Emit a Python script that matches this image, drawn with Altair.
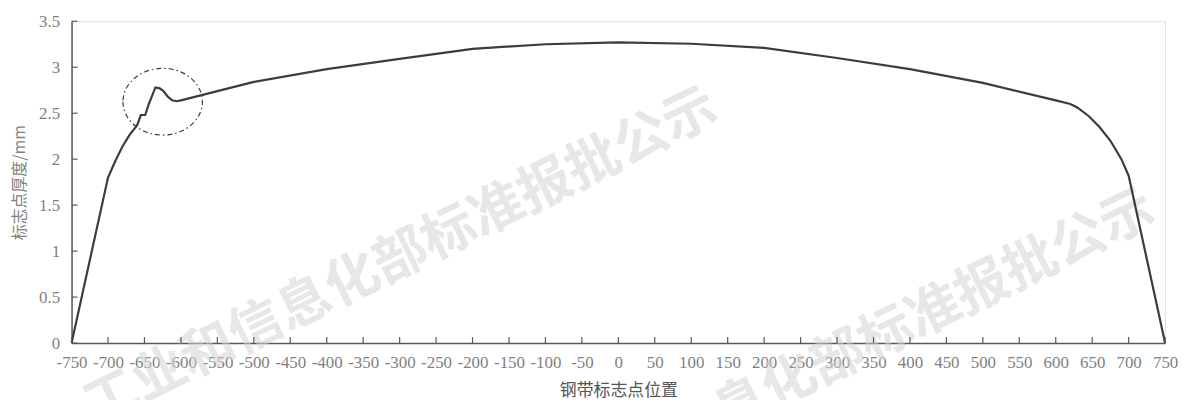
import altair as alt
import pandas as pd

# strip position (mm from centre) and marker-point thickness (mm)
pos = [-750, -700, -690, -680, -670, -664, -660, -655, -649, -644,
       -640, -635, -629, -624, -618, -612, -606, -600,
       -500, -400, -300, -200, -100, 0, 100, 200, 300, 400, 500, 600,
       620, 630, 645, 660, 675, 690, 700, 750]
thk = [0, 1.80, 1.98, 2.14, 2.27, 2.33, 2.37, 2.48, 2.48, 2.60,
       2.68, 2.78, 2.77, 2.74, 2.68, 2.64, 2.63, 2.64,
       2.84, 2.98, 3.09, 3.20, 3.25, 3.27, 3.255, 3.21, 3.10, 2.98, 2.83, 2.64,
       2.60, 2.56, 2.47, 2.35, 2.20, 2.00, 1.82, 0]

x_ticks = list(range(-750, 751, 50))
y_ticks = [0, 0.5, 1, 1.5, 2, 2.5, 3, 3.5]

# highlighted region (dash-dot ellipse) centre
ell_pos = [-625]
ell_thk = [2.625]

x_title = "钢带标志点位置"
y_title = "标志点厚度/mm"
watermark = "工业和信息化部标准报批公示"

W, H = 1101, 324
AX = "#595959"
LAB = "#7f7f7f"

xscale = alt.Scale(domain=[-750, 750], nice=False, zero=False)
yscale = alt.Scale(domain=[0, 3.5], nice=False, zero=True)

xaxis = alt.Axis(values=x_ticks, title=x_title, ticks=False, tickSize=0,
                 grid=False, domainColor=AX, domainWidth=1.5,
                 labelExpr="'' + datum.value",
                 labelColor=LAB, labelFont="Liberation Serif", labelFontSize=17,
                 labelPadding=12, labelFlush=False, labelOverlap=False,
                 titleFont="Noto Sans CJK SC", titleFontSize=17,
                 titleFontWeight="normal", titleColor="#555555",
                 titleY=48, titleBaseline="middle")
yaxis = alt.Axis(values=y_ticks, title=y_title, ticks=False, tickSize=0,
                 grid=False, domainColor=AX, domainWidth=1.5,
                 labelExpr="'' + datum.value",
                 labelColor=LAB, labelFont="Liberation Serif", labelFontSize=17,
                 labelPadding=12, labelOverlap=False,
                 titleFont="Noto Sans CJK SC", titleFontSize=16,
                 titleFontWeight="normal", titleColor=LAB,
                 titleX=-52, titleY=H / 2, titleBaseline="middle")

X = alt.X("pos:Q", scale=xscale, axis=xaxis)
Y = alt.Y("thk:Q", scale=yscale, axis=yaxis)

df = pd.DataFrame({"pos": pos, "thk": thk})

line = alt.Chart(df).mark_line(color="#3c3c3c", strokeWidth=2.2).encode(x=X, y=Y)

xt = alt.Chart(pd.DataFrame({"pos": x_ticks})).mark_rule(color=AX, strokeWidth=1.2).encode(
    x=X, y=alt.value(H), y2=alt.value(H - 6),
)
yt = alt.Chart(pd.DataFrame({"thk": y_ticks})).mark_rule(color=AX, strokeWidth=1.2).encode(
    y=Y, x=alt.value(0), x2=alt.value(6),
)

ellipse_path = "M -1 0 A 1 0.84 0 1 0 1 0 A 1 0.84 0 1 0 -1 0 Z"
ell = alt.Chart(pd.DataFrame({"pos": ell_pos, "thk": ell_thk})).mark_point(
    shape=ellipse_path, size=6400, filled=False, stroke="#3c3c3c",
    strokeWidth=1.2, strokeDash=[5, 3, 1.5, 3], opacity=1,
).encode(x=X, y=Y)

def wm_layer(px, py):
    return alt.Chart(pd.DataFrame({"w": [watermark]})).mark_text(
        font="Noto Sans CJK SC", fontSize=54, fontWeight="bold", color="#d4d4d4",
        opacity=0.55, angle=334, align="center", baseline="middle",
    ).encode(x=alt.value(px), y=alt.value(py), text="w:N")

chart = alt.layer(wm_layer(332, 238), wm_layer(772, 340), line, ell, xt, yt).properties(
    width=W, height=H,
    autosize=alt.AutoSizeParams(type="none"),
    padding={"left": 64, "top": 12, "right": 16, "bottom": 56},
).configure_view(stroke="#6a6a6a", strokeWidth=1.5).configure_axis(
    labelOverlap=False, labelFlush=False
).configure(background="white")

chart.save("out.html", embed_options={"renderer": "svg", "actions": False})
